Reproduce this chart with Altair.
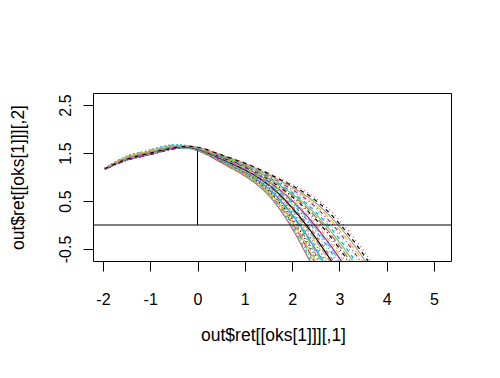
import altair as alt
import pandas as pd

# x positions of every trajectory point
traj_x = [-1.96, -1.5, -1.0, -0.5, 0.0, 0.5, 1.0, 1.5, 2.0, 2.5, 3.0, 3.5, 4.0]

# y values of each trajectory on traj_x
trajectories = [
    [1.17, 1.37, 1.50, 1.61, 1.55, 1.30, 1.02, 0.62, -0.07, -1.00, -2.00, -3.10, -4.30],
    [1.17, 1.41, 1.54, 1.65, 1.55, 1.31, 1.03, 0.63, -0.04, -0.95, -1.93, -3.02, -4.20],
    [1.16, 1.35, 1.47, 1.59, 1.55, 1.31, 1.04, 0.65, -0.01, -0.90, -1.87, -2.94, -4.11],
    [1.18, 1.43, 1.56, 1.67, 1.56, 1.32, 1.05, 0.66, 0.02, -0.85, -1.80, -2.86, -4.01],
    [1.17, 1.39, 1.52, 1.63, 1.56, 1.32, 1.06, 0.68, 0.05, -0.81, -1.74, -2.78, -3.92],
    [1.16, 1.35, 1.47, 1.59, 1.56, 1.33, 1.06, 0.69, 0.07, -0.76, -1.67, -2.70, -3.82],
    [1.17, 1.37, 1.50, 1.61, 1.56, 1.33, 1.07, 0.71, 0.10, -0.71, -1.61, -2.62, -3.73],
    [1.18, 1.43, 1.56, 1.67, 1.57, 1.34, 1.08, 0.72, 0.13, -0.66, -1.54, -2.54, -3.63],
    [1.17, 1.41, 1.54, 1.65, 1.57, 1.34, 1.09, 0.74, 0.16, -0.61, -1.48, -2.46, -3.54],
    [1.17, 1.39, 1.52, 1.63, 1.57, 1.35, 1.10, 0.75, 0.19, -0.56, -1.41, -2.37, -3.44],
    [1.16, 1.35, 1.47, 1.59, 1.57, 1.35, 1.11, 0.76, 0.22, -0.51, -1.34, -2.29, -3.35],
    [1.17, 1.37, 1.50, 1.61, 1.57, 1.36, 1.12, 0.78, 0.25, -0.46, -1.28, -2.21, -3.25],
    [1.18, 1.43, 1.56, 1.67, 1.58, 1.36, 1.13, 0.79, 0.28, -0.42, -1.21, -2.13, -3.16],
    [1.17, 1.41, 1.54, 1.65, 1.58, 1.37, 1.13, 0.81, 0.30, -0.37, -1.15, -2.05, -3.06],
    [1.16, 1.35, 1.47, 1.59, 1.58, 1.37, 1.14, 0.82, 0.33, -0.32, -1.08, -1.97, -2.97],
    [1.17, 1.39, 1.52, 1.63, 1.58, 1.38, 1.15, 0.84, 0.36, -0.27, -1.02, -1.89, -2.87],
    [1.17, 1.37, 1.50, 1.61, 1.59, 1.39, 1.16, 0.85, 0.39, -0.22, -0.95, -1.81, -2.78],
    [1.18, 1.43, 1.56, 1.67, 1.59, 1.39, 1.17, 0.86, 0.42, -0.17, -0.88, -1.73, -2.68],
    [1.16, 1.35, 1.47, 1.59, 1.59, 1.40, 1.18, 0.88, 0.45, -0.12, -0.82, -1.65, -2.58],
    [1.17, 1.41, 1.54, 1.65, 1.59, 1.40, 1.19, 0.89, 0.48, -0.07, -0.75, -1.57, -2.49],
    [1.17, 1.39, 1.52, 1.63, 1.59, 1.41, 1.20, 0.91, 0.51, -0.03, -0.69, -1.49, -2.39],
    [1.17, 1.37, 1.50, 1.61, 1.60, 1.41, 1.20, 0.92, 0.53, 0.02, -0.62, -1.41, -2.30],
    [1.18, 1.43, 1.56, 1.67, 1.60, 1.42, 1.21, 0.94, 0.56, 0.07, -0.56, -1.33, -2.20],
    [1.16, 1.35, 1.47, 1.59, 1.60, 1.42, 1.22, 0.95, 0.59, 0.12, -0.49, -1.25, -2.11],
    [1.17, 1.41, 1.54, 1.65, 1.60, 1.43, 1.23, 0.97, 0.62, 0.17, -0.43, -1.17, -2.01],
    [1.17, 1.39, 1.52, 1.63, 1.60, 1.43, 1.24, 0.98, 0.65, 0.22, -0.36, -1.08, -1.92],
    [1.17, 1.37, 1.50, 1.61, 1.61, 1.44, 1.25, 1.00, 0.68, 0.27, -0.29, -1.00, -1.82],
    [1.18, 1.43, 1.56, 1.67, 1.61, 1.44, 1.26, 1.01, 0.71, 0.32, -0.23, -0.92, -1.73],
    [1.16, 1.35, 1.47, 1.59, 1.61, 1.45, 1.27, 1.02, 0.74, 0.37, -0.16, -0.84, -1.63],
    [1.17, 1.41, 1.54, 1.65, 1.61, 1.45, 1.27, 1.04, 0.77, 0.41, -0.10, -0.76, -1.54],
    [1.17, 1.39, 1.52, 1.63, 1.62, 1.46, 1.28, 1.05, 0.79, 0.46, -0.03, -0.68, -1.44],
    [1.17, 1.37, 1.50, 1.61, 1.62, 1.46, 1.29, 1.07, 0.82, 0.51, 0.03, -0.60, -1.35],
    [1.16, 1.39, 1.51, 1.63, 1.62, 1.47, 1.30, 1.08, 0.85, 0.56, 0.10, -0.52, -1.25],
]

palette = ["#000000", "#DF536B", "#61D04F", "#2297E6",
           "#28E2E5", "#CD0BBC", "#F5C710", "#9E9E9E"]
ltys = ["1", "2", "3", "4", "5"]

rows = []
for i, ys in enumerate(trajectories):
    for k, (xv, yv) in enumerate(zip(traj_x, ys)):
        rows.append({"id": i, "k": k, "x": xv, "y": yv,
                     "col": palette[(i + 1) % len(palette)],
                     "lty": ltys[i % len(ltys)]})
df = pd.DataFrame(rows)

xscale = alt.Scale(domain=[-2.21, 5.36], nice=False, zero=False)
yscale = alt.Scale(domain=[-0.75, 2.75], nice=False, zero=False)

font = "Liberation Sans"

xaxis = alt.Axis(values=[-2, -1, 0, 1, 2, 3, 4, 5], grid=False, domain=False,
                 tickSize=10, tickColor="black", labelFontSize=16,
                 labelFont=font, labelColor="black", labelBaseline="middle",
                 labelPadding=28, labelFlush=False,
                 labelExpr="datum.value < 0 ? '-' + abs(datum.value) : '' + datum.value",
                 title="out$ret[[oks[1]]][,1]", titleFont=font, titleFontSize=17.5,
                 titleFontWeight="normal", titleColor="black",
                 titleX=180, titleY=74, titleBaseline="middle")
yaxis = alt.Axis(values=[-0.5, 0, 0.5, 1, 1.5, 2, 2.5], grid=False, domain=False,
                 tickSize=10, tickColor="black", labelFontSize=16,
                 labelFont=font, labelColor="black", labelAngle=270,
                 labelAlign="center", labelBaseline="bottom", labelPadding=10,
                 labelFlush=False,
                 labelExpr="(abs(datum.value*2) % 2 == 1) ? (datum.value < 0 ? '-' + format(abs(datum.value), '.1f') : format(datum.value, '.1f')) : ''",
                 title="out$ret[[oks[1]]][,2]", titleFont=font, titleFontSize=17.5,
                 titleFontWeight="normal", titleColor="black", titleAngle=270,
                 titleX=-75, titleY=84, titleBaseline="middle", titleAlign="center")

lines = alt.Chart(df).mark_line(strokeWidth=1.2, clip=True, interpolate="natural").encode(
    x=alt.X("x:Q", scale=xscale, axis=xaxis),
    y=alt.Y("y:Q", scale=yscale, axis=yaxis),
    detail="id:N",
    order="k:Q",
    color=alt.Color("col:N", scale=None),
    strokeDash=alt.StrokeDash("lty:N", scale=alt.Scale(
        domain=ltys, range=[[1, 0], [4, 4], [1, 3], [1, 3, 4, 3], [7, 3]]), legend=None),
)

hline_df = pd.DataFrame({"y": [0.0]})
hline = alt.Chart(hline_df).mark_rule(color="black", strokeWidth=1).encode(
    y=alt.Y("y:Q", scale=yscale))

vseg_df = pd.DataFrame({"x": [0.0], "y": [0.0], "y2": [1.55]})
vseg = alt.Chart(vseg_df).mark_rule(color="black", strokeWidth=1).encode(
    x=alt.X("x:Q", scale=xscale), y=alt.Y("y:Q", scale=yscale), y2="y2:Q")

chart = alt.layer(lines, hline, vseg).properties(
    width=358, height=168,
    autosize=alt.AutoSizeParams(type="none"),
    padding={"left": 85, "top": 85, "right": 33, "bottom": 95},
    background="white",
).configure_view(stroke="black", strokeWidth=1)

chart.save("out.html", embed_options={"renderer": "svg", "actions": False})
